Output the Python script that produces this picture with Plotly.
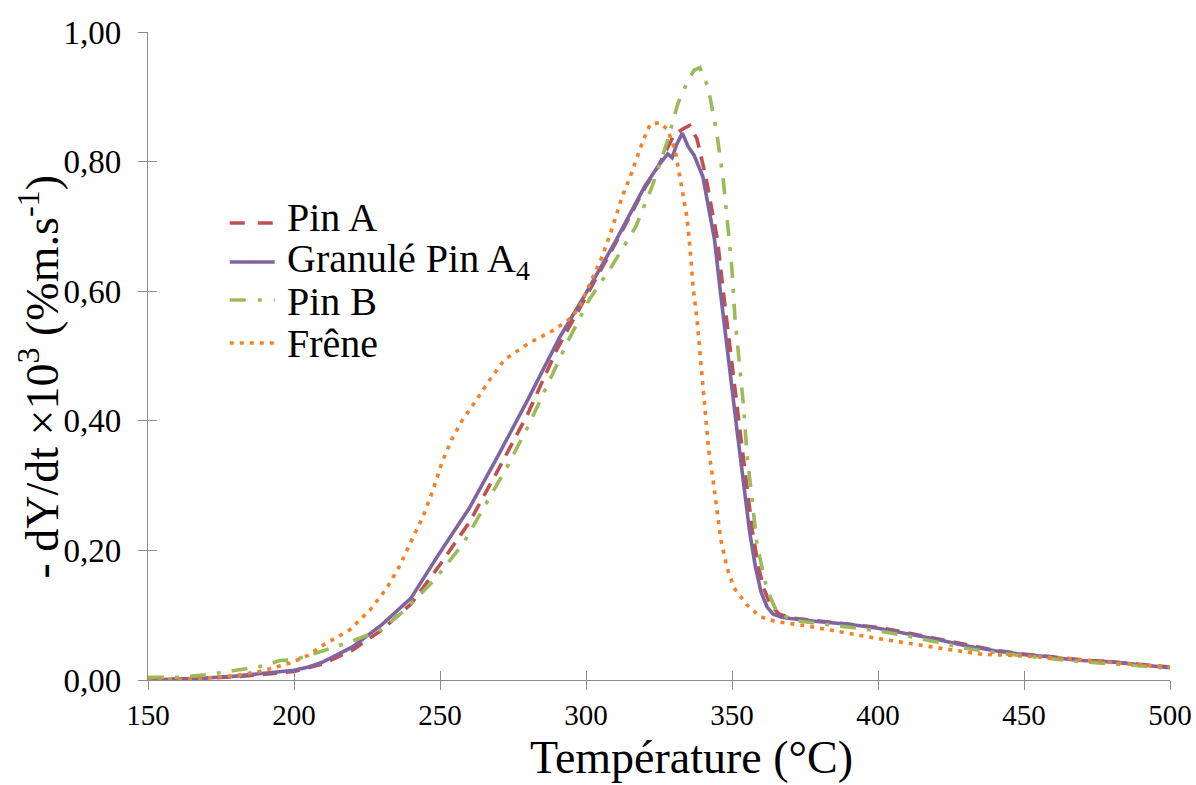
import plotly.graph_objects as go

# ---------------- data ----------------
pinA_T = [150, 160, 170, 180, 190, 200, 210, 220, 230, 240, 250, 260, 270, 280, 290, 300,
          310, 320, 325, 330, 333, 335.5, 338, 341, 343, 345, 347, 349, 351, 353, 355, 357,
          359, 361, 363, 366, 370, 380, 390, 400, 410, 420, 430, 440, 450, 460, 470, 480,
          490, 500]
pinA_Y = [0.000, 0.001, 0.003, 0.005, 0.009, 0.013, 0.025, 0.046, 0.077, 0.117, 0.178, 0.243,
          0.325, 0.410, 0.510, 0.592, 0.673, 0.758, 0.795, 0.840, 0.850, 0.856, 0.835, 0.777,
          0.730, 0.680, 0.600, 0.520, 0.450, 0.375, 0.300, 0.230, 0.175, 0.140, 0.118, 0.102,
          0.096, 0.091, 0.087, 0.081, 0.073, 0.064, 0.054, 0.046, 0.040, 0.035, 0.031, 0.028,
          0.024, 0.020]

gran_T = [150, 160, 170, 180, 190, 200, 205, 210, 220, 230, 240, 250, 260, 270, 280, 291,
          300, 310, 320, 325, 328, 329.5, 331, 333, 335, 337, 340, 342, 344, 346, 348, 350,
          352, 354, 356, 358, 360, 362, 364, 367, 370, 380, 390, 400, 410, 420, 430, 440,
          450, 459, 465, 470, 480, 490, 500]
gran_Y = [0.000, 0.001, 0.003, 0.006, 0.010, 0.015, 0.020, 0.028, 0.051, 0.085, 0.126, 0.197,
          0.265, 0.347, 0.432, 0.529, 0.597, 0.676, 0.761, 0.795, 0.812, 0.806, 0.826, 0.844,
          0.823, 0.810, 0.777, 0.730, 0.680, 0.600, 0.520, 0.450, 0.375, 0.300, 0.230, 0.175,
          0.135, 0.113, 0.102, 0.097, 0.095, 0.090, 0.086, 0.080, 0.072, 0.063, 0.053, 0.045,
          0.039, 0.036, 0.032, 0.030, 0.028, 0.023, 0.019]

pinB_T = [150, 160, 165, 170, 180, 190, 195, 200, 210, 220, 225, 230, 238, 248, 258, 265,
          273, 280, 287, 293.5, 301, 309, 317, 322.6, 327.7, 331.5, 335, 337, 339, 341.8,
          344.8, 347, 348.6, 350, 351, 352.5, 354, 355.1, 356.8, 358.6, 362, 365.4, 371, 380,
          390, 400, 410, 420, 430, 440, 450, 460, 470, 480, 490, 500]
pinB_Y = [0.004, 0.004, 0.006, 0.008, 0.015, 0.022, 0.030, 0.031, 0.045, 0.060, 0.069, 0.078,
          0.108, 0.154, 0.211, 0.267, 0.329, 0.390, 0.458, 0.520, 0.586, 0.640, 0.699, 0.761,
          0.829, 0.890, 0.926, 0.941, 0.945, 0.915, 0.844, 0.772, 0.699, 0.633, 0.560, 0.490,
          0.420, 0.350, 0.278, 0.208, 0.139, 0.105, 0.092, 0.087, 0.082, 0.076, 0.068, 0.058,
          0.049, 0.042, 0.037, 0.032, 0.028, 0.025, 0.021, 0.018]

frene_T = [150, 155, 165, 179, 189, 198.6, 204.8, 210, 219, 226, 231.8, 236.3, 240.8, 244.2,
           247.6, 250.7, 254.1, 257.5, 262, 267, 272, 280.5, 289, 294, 297.5, 302, 305.8,
           309.3, 312.3, 315, 317.4, 319.6, 322, 325.3, 328, 330.5, 332.2, 333.3, 334.6,
           335.6, 336.7, 338, 339, 340, 341, 342, 343.5, 344.8, 346.2, 348.3, 350.7, 355.1,
           359.6, 365, 375, 390, 400, 420, 435, 450, 465, 480, 500]
frene_Y = [0.000, 0.000, 0.002, 0.006, 0.014, 0.026, 0.038, 0.054, 0.077, 0.108, 0.142, 0.177,
           0.221, 0.252, 0.293, 0.336, 0.372, 0.400, 0.429, 0.463, 0.494, 0.520, 0.540, 0.556,
           0.573, 0.617, 0.656, 0.702, 0.745, 0.775, 0.806, 0.833, 0.858, 0.860, 0.849, 0.818,
           0.775, 0.744, 0.713, 0.667, 0.605, 0.557, 0.509, 0.460, 0.417, 0.355, 0.309, 0.262,
           0.216, 0.173, 0.142, 0.116, 0.098, 0.090, 0.084, 0.072, 0.064, 0.050, 0.040, 0.037,
           0.033, 0.027, 0.020]

names = ["Pin A", "Granulé Pin A<sub>4</sub>", "Pin B", "Frêne"]
colors = ["#C0504D", "#8064A2", "#9BBB59", "#F68026"]
dashes = ["14px,9px", "solid", "16px,11px,4px,11px", "4px,6px"]
legend_dashes = ["15px,13px", "solid", "16px,12px,4px,12px", "4px,6px"]

x_range = [150, 500]
y_range = [0, 1.0]
x_ticks = [150, 200, 250, 300, 350, 400, 450, 500]
y_ticks = [0.0, 0.2, 0.4, 0.6, 0.8, 1.0]

FONT = "Liberation Serif"
AXIS_COLOR = "#8C8C8C"
LINE_W = 3.6

fig = go.Figure()
series = [(pinA_T, pinA_Y), (gran_T, gran_Y), (pinB_T, pinB_Y), (frene_T, frene_Y)]
for (tx, ty), nm, c, d in zip(series, names, colors, dashes):
    fig.add_trace(go.Scatter(x=tx, y=ty, mode="lines", name=nm, showlegend=False,
                             line=dict(color=c, width=LINE_W, dash=d)))

# helper trace for the inside half of the crossing ticks
fig.add_trace(go.Scatter(x=x_range, y=y_range, xaxis="x2", yaxis="y2", mode="lines",
                         line=dict(width=0), hoverinfo="skip", showlegend=False))

# legend (drawn in paper coordinates so that its large font keeps the tight row spacing)
leg_x0, leg_x1, leg_text_x = 0.080, 0.124, 0.1336
key_rows = [0.7053, 0.6451, 0.5864, 0.5201]
text_rows = [0.7145, 0.6465, 0.5835, 0.5200]
shapes, annotations = [], []
for nm, c, d, ky, ty in zip(names, colors, legend_dashes, key_rows, text_rows):
    shapes.append(dict(type="line", xref="paper", yref="paper", x0=leg_x0, x1=leg_x1,
                       y0=ky, y1=ky, line=dict(color=c, width=LINE_W, dash=d)))
    annotations.append(dict(text=nm, xref="paper", yref="paper", x=leg_text_x, y=ty,
                            xanchor="left", yanchor="middle", showarrow=False,
                            font=dict(family=FONT, size=40, color="black")))

annotations += [
    dict(text="Température (°C)", xref="paper", yref="paper", x=0.532, y=-0.119,
         xanchor="center", yanchor="middle", showarrow=False,
         font=dict(family=FONT, size=46, color="black")),
    dict(text="- dY/dt ×10<sup>3</sup> (%m.s<sup>-1</sup>)", xref="paper", yref="paper",
         x=-0.1068, y=0.468, xanchor="center", yanchor="middle", textangle=-90,
         showarrow=False, font=dict(family=FONT, size=46, color="black")),
]

tick_common = dict(showgrid=False, zeroline=False, tickwidth=1.3, tickcolor=AXIS_COLOR,
                   automargin=False)

fig.update_layout(
    width=1196, height=785,
    margin=dict(l=148, r=26, t=32, b=105),
    paper_bgcolor="white", plot_bgcolor="white",
    separators=", ",
    font=dict(family=FONT, size=28, color="black"),
    showlegend=False,
    xaxis=dict(range=x_range, tickvals=x_ticks, showline=True, linecolor=AXIS_COLOR,
               linewidth=1.3, ticks="outside", ticklen=9, ticklabeloverflow="allow",
               tickfont=dict(family=FONT, size=29, color="black"), **tick_common),
    xaxis2=dict(range=x_range, overlaying="x", matches="x", tickvals=x_ticks,
                showline=False, ticks="inside", ticklen=9, showticklabels=False,
                **tick_common),
    yaxis=dict(range=y_range, tickvals=y_ticks, tickformat=".2f", showline=True,
               linecolor=AXIS_COLOR, linewidth=1.3, ticks="outside", ticklen=9,
               ticklabelstandoff=10,
               tickfont=dict(family=FONT, size=33, color="black"), **tick_common),
    yaxis2=dict(range=y_range, overlaying="y", matches="y", tickvals=y_ticks,
                showline=False, ticks="inside", ticklen=9, showticklabels=False,
                **tick_common),
    shapes=shapes,
    annotations=annotations,
)

fig.write_html("out.html", config={"displayModeBar": False},
               post_script="document.body.style.margin='0';"
                           "document.body.style.overflow='hidden';")
